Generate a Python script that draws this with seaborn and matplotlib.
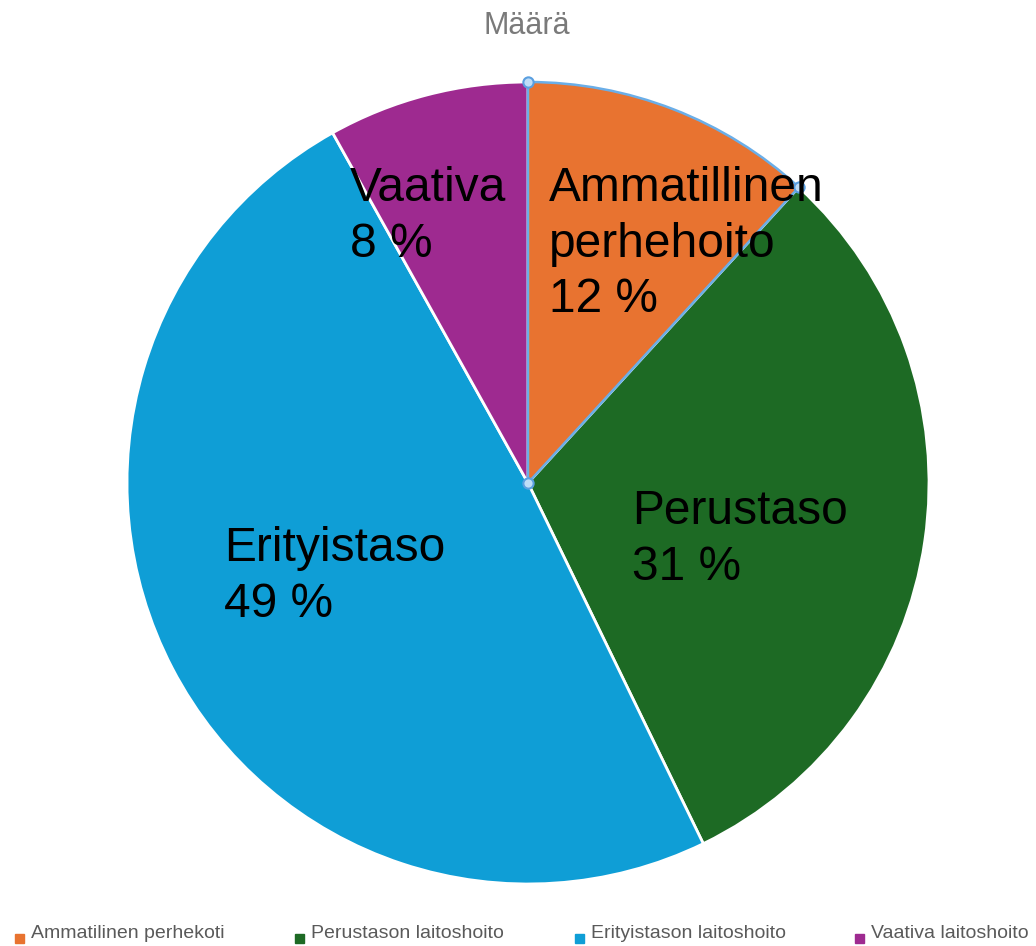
import matplotlib
matplotlib.use('Agg')
import matplotlib.pyplot as plt
import seaborn as sns
import numpy as np
from matplotlib.patches import Rectangle

# Data (share of total, %)
categories = ['Ammatilinen perhekoti', 'Perustason laitoshoito',
              'Erityistason laitoshoito', 'Vaativa laitoshoito']
slice_labels = ['Ammatillinen\nperhehoito\n12 %', 'Perustaso\n31 %',
                'Erityistaso\n49 %', 'Vaativa\n8 %']
shares = [11.8, 31.0, 49.1, 8.1]
colors = ['#E87330', '#1D6A24', '#0F9ED6', '#9E2A90']

sns.set_theme(style='white')
plt.rcParams['font.family'] = ['Liberation Sans', 'DejaVu Sans']

W, H = 1036, 946
fig = plt.figure(figsize=(W / 100, H / 100), dpi=100)
cx, cy, r = 528, 483, 401
ax = fig.add_axes([(cx - r) / W, (H - cy - r) / H, 2 * r / W, 2 * r / H])

wedges, _ = ax.pie(shares, colors=colors, startangle=90, counterclock=False,
                   radius=1, wedgeprops=dict(edgecolor='white', linewidth=2))
ax.set_xlim(-1, 1)
ax.set_ylim(-1, 1)

# selected slice outline (orange one) with handles
sel = wedges[0]
sel.set_edgecolor('#6AAEE8')
sel.set_linewidth(1.8)
sel.set_zorder(3)
a0 = np.deg2rad(sel.theta1)
a1 = np.deg2rad(sel.theta2)
hx = [0, np.cos(a0), np.cos(a1)]
hy = [0, np.sin(a0), np.sin(a1)]
ax.scatter(hx, hy, s=55, color='#BFDDF7', edgecolor='#5A9FE0',
           linewidth=1.5, zorder=5, clip_on=False)

# slice labels (left aligned, like the original)
label_pos = [(0.0525, 0.79), (0.26, -0.015), (-0.7575, -0.108), (-0.445, 0.79)]
for txt, (x, y) in zip(slice_labels, label_pos):
    ax.text(x, y, txt, ha='left', va='top', fontsize=34.5, color='black',
            linespacing=1.3, zorder=6)

fig.text(527 / W, 1 - 26 / H, 'Määrä', ha='center', va='center',
         fontsize=22, color='#7A7A7A')

# legend along the bottom
for i, (lab, col) in enumerate(zip(categories, colors)):
    x0 = 15 + i * 280
    fig.patches.append(Rectangle((x0 / W, 1 - 943 / H), 9 / W, 9 / H,
                                 transform=fig.transFigure, color=col))
    fig.text((x0 + 16) / W, 1 - 933 / H, lab, ha='left', va='center',
             fontsize=14, color='#5A5A5A')

fig.savefig('out.png', dpi=100, facecolor='white')
